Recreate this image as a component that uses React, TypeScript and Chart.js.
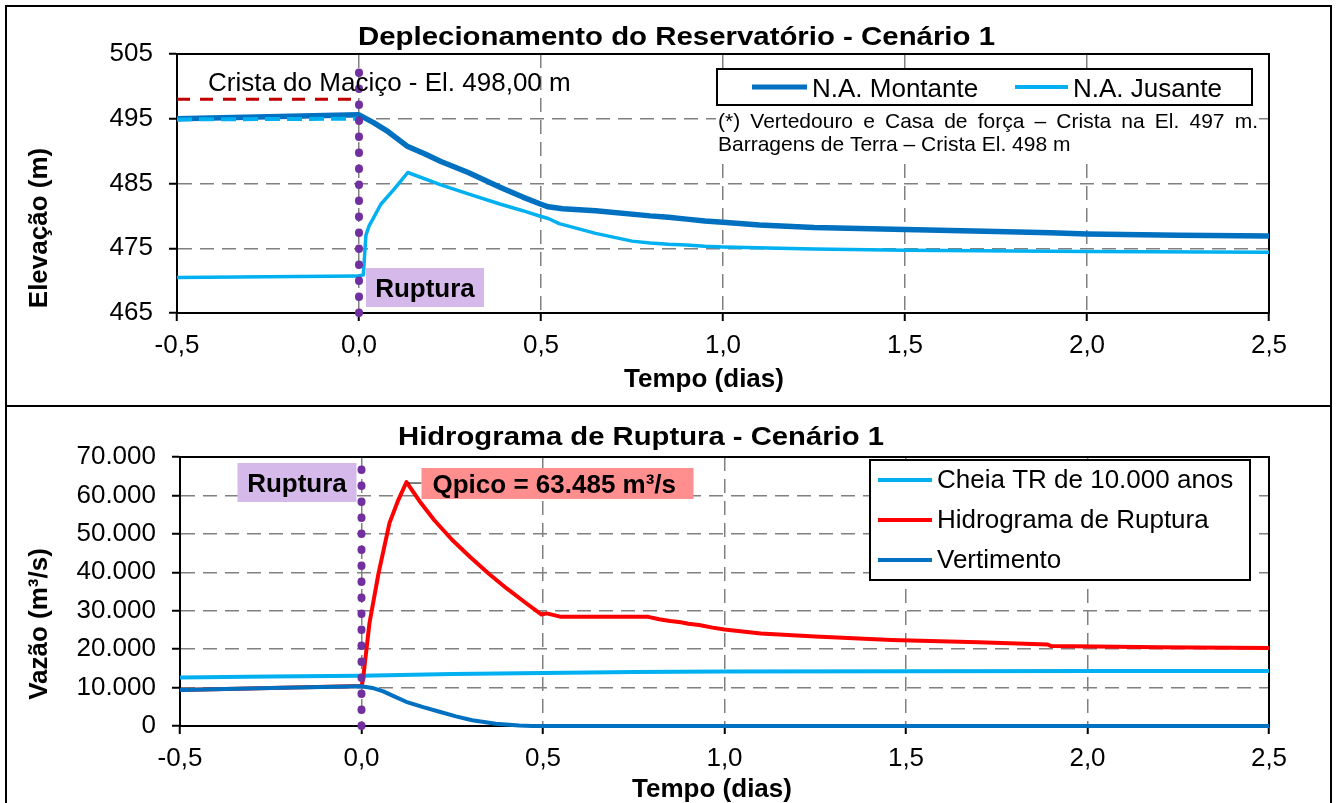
import React, { useEffect, useRef } from 'react';
import { Chart, registerables } from 'chart.js';

Chart.register(...registerables);

const FONT = "'Liberation Sans', Arial, Helvetica, sans-serif";

// ---------- Eixo comum (tempo em dias) ----------
const diasTicks = [-0.5, 0, 0.5, 1, 1.5, 2, 2.5];

// ---------- Gráfico 1: Deplecionamento do Reservatório ----------
const elevTicks = [465, 475, 485, 495, 505];

const montanteDias = [-0.5, -0.25, 0, 0.04, 0.08, 0.134, 0.18, 0.225, 0.3, 0.389, 0.45, 0.5, 0.52, 0.56, 0.65, 0.8, 0.85, 0.9, 0.95, 1.0, 1.1, 1.25, 1.5, 1.75, 1.9, 2.0, 2.25, 2.5];
const montanteElev = [495.0, 495.3, 495.6, 494.4, 493.0, 490.7, 489.6, 488.4, 486.7, 484.4, 482.9, 481.8, 481.4, 481.1, 480.8, 480.0, 479.8, 479.5, 479.2, 479.0, 478.6, 478.2, 477.9, 477.6, 477.4, 477.2, 477.0, 476.9];

const jusanteDias = [-0.5, 0, 0.012, 0.016, 0.019, 0.028, 0.038, 0.06, 0.096, 0.134, 0.225, 0.3, 0.389, 0.45, 0.5, 0.52, 0.55, 0.65, 0.75, 0.8, 0.85, 0.9, 0.95, 1.0, 1.25, 1.5, 2.0, 2.5];
const jusanteElev = [470.5, 470.7, 470.9, 474.5, 477.0, 478.5, 479.5, 481.8, 484.1, 486.7, 484.8, 483.4, 481.8, 480.8, 479.9, 479.6, 478.8, 477.3, 476.1, 475.8, 475.6, 475.5, 475.3, 475.2, 474.9, 474.7, 474.5, 474.4];

const jusanteTracoDias = [-0.5, 0];
const jusanteTracoElev = [494.9, 495.0];

const cristaDias = [-0.5, 0];
const cristaElev = [498, 498];

const rupturaDias = [0, 0];
const rupturaElev = [465, 503];

const legenda1 = ['N.A. Montante', 'N.A. Jusante'];

// ---------- Gráfico 2: Hidrograma de Ruptura ----------
const vazaoTicks = [0, 10000, 20000, 30000, 40000, 50000, 60000, 70000];

const cheiaDias = [-0.5, -0.25, 0, 0.25, 0.5, 0.75, 1.0, 1.5, 2.0, 2.5];
const cheiaVazao = [12600, 12850, 13100, 13500, 13800, 14050, 14200, 14250, 14300, 14300];

const hidroDias = [-0.5, -0.25, 0, 0.004, 0.022, 0.047, 0.077, 0.1, 0.124, 0.16, 0.2, 0.25, 0.3, 0.35, 0.4, 0.45, 0.496, 0.51, 0.55, 0.65, 0.79, 0.82, 0.85, 0.88, 0.9, 0.93, 0.967, 1.0, 1.1, 1.25, 1.46, 1.7, 1.89, 1.9, 2.2, 2.5];
const hidroVazao = [9400, 9900, 10400, 12000, 26800, 39800, 52800, 58500, 63485, 58500, 53600, 48400, 43900, 39700, 35800, 32200, 29000, 29300, 28400, 28400, 28400, 27800, 27300, 27000, 26600, 26300, 25600, 25100, 24100, 23300, 22400, 21800, 21200, 20800, 20500, 20300];

const vertDias = [-0.5, -0.25, 0, 0.03, 0.06, 0.09, 0.123, 0.17, 0.215, 0.26, 0.305, 0.37, 0.434, 0.47, 1.0, 2.5];
const vertVazao = [9400, 9900, 10350, 9900, 9000, 7700, 6300, 4900, 3700, 2500, 1500, 600, 100, 0, 0, 0];

const rupturaVazao = [0, 68000];

const qpicoDia = 0.124;
const qpicoValor = 63485;

const legenda2 = ['Cheia TR de 10.000 anos', 'Hidrograma de Ruptura', 'Vertimento'];

// ---------- Cores ----------
const AZUL_ESCURO = '#0070C0';
const AZUL_CLARO = '#00B0F0';
const VERMELHO = '#FF0000';
const VERMELHO_ESCURO = '#C00000';
const ROXO = '#7030A0';
const LILAS = '#D5B9EA';
const SALMAO = '#FF8F8F';
const CINZA = '#808080';

// ---------- Helpers ----------
const ptsOf = (xs: number[], ys: number[]) => xs.map((x, i) => ({ x, y: ys[i] }));
const fmtDia = (v: number) => v.toFixed(1).replace('.', ',');
const fmtMil = (v: number) => String(Math.round(v)).replace(/\B(?=(\d{3})+(?!\d))/g, '.');

function lineDs(label: string, xs: number[], ys: number[], color: string, width: number, extra: any = {}) {
  return {
    label,
    data: ptsOf(xs, ys),
    borderColor: color,
    backgroundColor: color,
    borderWidth: width,
    pointRadius: 0,
    pointHoverRadius: 0,
    fill: false,
    tension: 0,
    clip: false,
    borderJoinStyle: 'round',
    ...extra,
  };
}

function makeScales(yTicks: number[], yFmt: (v: number) => string, yWidth: number, xHeight: number) {
  const gridColor = (min: number, max: number) => (ctx: any) => {
    const v = ctx.tick ? ctx.tick.value : null;
    return v === min || v === max ? 'rgba(0,0,0,0)' : CINZA;
  };
  const xMin = diasTicks[0];
  const xMax = diasTicks[diasTicks.length - 1];
  const yMin = yTicks[0];
  const yMax = yTicks[yTicks.length - 1];
  const tickFont = { family: FONT, size: 26 };
  return {
    x: {
      type: 'linear',
      min: xMin,
      max: xMax,
      afterBuildTicks: (s: any) => {
        s.ticks = diasTicks.map((value) => ({ value }));
      },
      afterFit: (s: any) => {
        s.height = xHeight;
      },
      ticks: { callback: (v: any) => fmtDia(Number(v)), font: tickFont, color: '#000', padding: 9, maxRotation: 0, autoSkip: false },
      grid: { color: gridColor(xMin, xMax), lineWidth: 1.5, tickColor: '#000', tickLength: 8, tickWidth: 2, tickBorderDash: [] },
      border: { display: true, color: '#000', width: 2, dash: [14, 8] },
    },
    y: {
      type: 'linear',
      min: yMin,
      max: yMax,
      afterBuildTicks: (s: any) => {
        s.ticks = yTicks.map((value) => ({ value }));
      },
      afterFit: (s: any) => {
        s.width = yWidth;
      },
      ticks: { callback: (v: any) => yFmt(Number(v)), font: tickFont, color: '#000', padding: 16, autoSkip: false },
      grid: { color: gridColor(yMin, yMax), lineWidth: 1.5, tickColor: '#000', tickLength: 8, tickWidth: 2, tickBorderDash: [] },
      border: { display: true, color: '#000', width: 2, dash: [14, 8] },
    },
  };
}

function stretchedText(ctx: CanvasRenderingContext2D, text: string, cx: number, baseline: number, targetW: number) {
  const w = ctx.measureText(text).width;
  const sx = targetW / w;
  ctx.save();
  ctx.translate(cx, baseline);
  ctx.scale(sx, 1);
  ctx.textAlign = 'center';
  ctx.textBaseline = 'alphabetic';
  ctx.fillText(text, 0, 0);
  ctx.restore();
}

function justifiedText(ctx: CanvasRenderingContext2D, text: string, x0: number, x1: number, y: number) {
  const words = text.split(' ');
  const widths = words.map((w) => ctx.measureText(w).width);
  const total = widths.reduce((a, b) => a + b, 0);
  const gap = (x1 - x0 - total) / (words.length - 1);
  let x = x0;
  ctx.textAlign = 'left';
  words.forEach((w, i) => {
    ctx.fillText(w, x, y);
    x += widths[i] + gap;
  });
}

function verticalTitle(ctx: CanvasRenderingContext2D, text: string, cx: number, cy: number) {
  ctx.save();
  ctx.translate(cx, cy);
  ctx.rotate(-Math.PI / 2);
  ctx.textAlign = 'center';
  ctx.textBaseline = 'middle';
  ctx.fillText(text, 0, 0);
  ctx.restore();
}

const framePlugin = {
  id: 'frame',
  beforeDatasetsDraw(chart: any) {
    const { ctx, chartArea: a } = chart;
    ctx.save();
    ctx.strokeStyle = '#000';
    ctx.lineWidth = 2;
    ctx.strokeRect(a.left, a.top, a.right - a.left, a.bottom - a.top);
    ctx.restore();
  },
};

// ---------- Plugins de anotações ----------
const overlay1 = {
  id: 'overlay1',
  afterDraw(chart: any) {
    const ctx: CanvasRenderingContext2D = chart.ctx;
    const xs = chart.scales.x;
    ctx.save();
    ctx.fillStyle = '#000';
    ctx.font = `bold 26px ${FONT}`;
    stretchedText(ctx, 'Deplecionamento do Reservatório - Cenário 1', 676.5, 45, 637);
    verticalTitle(ctx, 'Elevação (m)', 40, 228);
    ctx.textAlign = 'center';
    ctx.textBaseline = 'alphabetic';
    ctx.fillText('Tempo (dias)', 704, 387);

    // Crista
    ctx.font = `26px ${FONT}`;
    ctx.textAlign = 'left';
    ctx.fillText('Crista do Maciço - El. 498,00 m', 208, 91);

    // Ruptura label
    const x0 = xs.getPixelForValue(0);
    ctx.fillStyle = LILAS;
    ctx.fillRect(x0 + 7, 268, 118, 39);
    ctx.fillStyle = '#000';
    ctx.font = `bold 26px ${FONT}`;
    ctx.textAlign = 'center';
    ctx.fillText('Ruptura', x0 + 66, 297);

    // Legenda
    ctx.fillStyle = '#fff';
    ctx.fillRect(717, 69, 535, 36);
    ctx.strokeStyle = '#000';
    ctx.lineWidth = 2;
    ctx.strokeRect(717, 69, 535, 36);
    ctx.lineCap = 'butt';
    ctx.strokeStyle = AZUL_ESCURO;
    ctx.lineWidth = 5;
    ctx.beginPath();
    ctx.moveTo(752, 87);
    ctx.lineTo(807, 87);
    ctx.stroke();
    ctx.strokeStyle = AZUL_CLARO;
    ctx.lineWidth = 4;
    ctx.beginPath();
    ctx.moveTo(1015, 87);
    ctx.lineTo(1068, 87);
    ctx.stroke();
    ctx.fillStyle = '#000';
    ctx.font = `26px ${FONT}`;
    ctx.textAlign = 'left';
    ctx.fillText(legenda1[0], 812, 97);
    ctx.fillText(legenda1[1], 1073, 97);

    // Nota
    ctx.fillStyle = '#fff';
    ctx.fillRect(716, 106, 543, 51);
    ctx.fillStyle = '#000';
    ctx.font = `21px ${FONT}`;
    justifiedText(ctx, '(*) Vertedouro e Casa de força – Crista na El. 497 m.', 718, 1258, 128);
    ctx.textAlign = 'left';
    ctx.fillText('Barragens de Terra – Crista El. 498 m', 718, 151);
    ctx.restore();
  },
};

const overlay2 = {
  id: 'overlay2',
  afterDraw(chart: any) {
    const ctx: CanvasRenderingContext2D = chart.ctx;
    const xs = chart.scales.x;
    const ys = chart.scales.y;
    ctx.save();
    ctx.fillStyle = '#000';
    ctx.font = `bold 26px ${FONT}`;
    stretchedText(ctx, 'Hidrograma de Ruptura - Cenário 1', 641, 42, 486);
    verticalTitle(ctx, 'Vazão (m³/s)', 40, 221);
    ctx.textAlign = 'center';
    ctx.textBaseline = 'alphabetic';
    ctx.fillText('Tempo (dias)', 712, 394);

    // Ruptura label
    const x0 = xs.getPixelForValue(0);
    ctx.fillStyle = LILAS;
    ctx.fillRect(x0 - 124, 60, 119, 39);
    ctx.fillStyle = '#000';
    ctx.textAlign = 'center';
    ctx.fillText('Ruptura', x0 - 64.5, 89);

    // Qpico
    const px = xs.getPixelForValue(qpicoDia);
    const py = ys.getPixelForValue(qpicoValor);
    ctx.strokeStyle = '#000';
    ctx.lineWidth = 1;
    ctx.beginPath();
    ctx.moveTo(px + 2, py + 1);
    ctx.lineTo(px + 15, py + 1);
    ctx.stroke();
    ctx.fillStyle = SALMAO;
    ctx.fillRect(px + 15, 65, 272, 31);
    ctx.fillStyle = '#000';
    ctx.textAlign = 'left';
    ctx.fillText('Qpico = ' + fmtMil(qpicoValor) + ' m³/s', px + 26, 90);

    // Legenda
    ctx.fillStyle = '#fff';
    ctx.fillRect(870, 57, 380, 120);
    ctx.strokeStyle = '#000';
    ctx.lineWidth = 2;
    ctx.strokeRect(870, 57, 380, 120);
    const cores = [AZUL_CLARO, VERMELHO, AZUL_ESCURO];
    ctx.font = `26px ${FONT}`;
    cores.forEach((c, i) => {
      const y = 77 + i * 40;
      ctx.strokeStyle = c;
      ctx.lineWidth = 4;
      ctx.beginPath();
      ctx.moveTo(878, y);
      ctx.lineTo(932, y);
      ctx.stroke();
      ctx.fillStyle = '#000';
      ctx.fillText(legenda2[i], 937, y + 8);
    });
    ctx.restore();
  },
};

const dotted = { borderDash: [0.5, 15.5], borderCapStyle: 'round', order: 0 };

function buildTop() {
  return {
    type: 'line',
    data: {
      datasets: [
        lineDs('Ruptura', rupturaDias, rupturaElev, ROXO, 8, dotted),
        lineDs('Jusante (antes)', jusanteTracoDias, jusanteTracoElev, AZUL_CLARO, 4, { borderDash: [15, 7], order: 1 }),
        lineDs(legenda1[1], jusanteDias, jusanteElev, AZUL_CLARO, 3.5, { order: 2 }),
        lineDs(legenda1[0], montanteDias, montanteElev, AZUL_ESCURO, 5.5, { order: 3 }),
        lineDs('Crista', cristaDias, cristaElev, VERMELHO_ESCURO, 3, { borderDash: [13, 10], order: 4 }),
      ],
    },
    options: {
      responsive: false,
      animation: false,
      devicePixelRatio: 1,
      layout: { padding: { left: 0, top: 54, right: 67, bottom: 0 } },
      plugins: { legend: { display: false }, title: { display: false }, tooltip: { enabled: false } },
      events: [],
      scales: makeScales(elevTicks, (v) => String(v), 177, 90),
    },
    plugins: [framePlugin, overlay1],
  };
}

function buildBottom() {
  return {
    type: 'line',
    data: {
      datasets: [
        lineDs('Ruptura', rupturaDias, rupturaVazao, ROXO, 8, dotted),
        lineDs(legenda2[2], vertDias, vertVazao, AZUL_ESCURO, 4, { order: 1 }),
        lineDs(legenda2[1], hidroDias, hidroVazao, VERMELHO, 4, { order: 2 }),
        lineDs(legenda2[0], cheiaDias, cheiaVazao, AZUL_CLARO, 4, { order: 3 }),
      ],
    },
    options: {
      responsive: false,
      animation: false,
      devicePixelRatio: 1,
      layout: { padding: { left: 0, top: 54, right: 67, bottom: 0 } },
      plugins: { legend: { display: false }, title: { display: false }, tooltip: { enabled: false } },
      events: [],
      scales: makeScales(vazaoTicks, fmtMil, 180, 77),
    },
    plugins: [framePlugin, overlay2],
  };
}

function ChartCanvas({ build, top, height }: { build: () => any; top: number; height: number }) {
  const ref = useRef<HTMLCanvasElement | null>(null);
  useEffect(() => {
    if (!ref.current) return;
    const chart = new Chart(ref.current, build() as any);
    return () => chart.destroy();
  }, []);
  return (
    <canvas
      ref={ref}
      width={1336}
      height={height}
      style={{ position: 'absolute', left: 0, top, width: 1336, height, display: 'block' }}
    />
  );
}

export default function App() {
  return (
    <div style={{ position: 'absolute', left: 0, top: 0, width: 1336, height: 803, overflow: 'hidden', background: '#fff' }}>
      <ChartCanvas build={buildTop} top={0} height={403} />
      <ChartCanvas build={buildBottom} top={403} height={400} />
      <div
        style={{ position: 'absolute', left: 5, top: 5, width: 1327, height: 402, border: '2px solid #000', boxSizing: 'border-box', pointerEvents: 'none' }}
      />
      <div
        style={{ position: 'absolute', left: 5, top: 407, width: 1327, height: 396, borderLeft: '2px solid #000', borderRight: '2px solid #000', boxSizing: 'border-box', pointerEvents: 'none' }}
      />
    </div>
  );
}
